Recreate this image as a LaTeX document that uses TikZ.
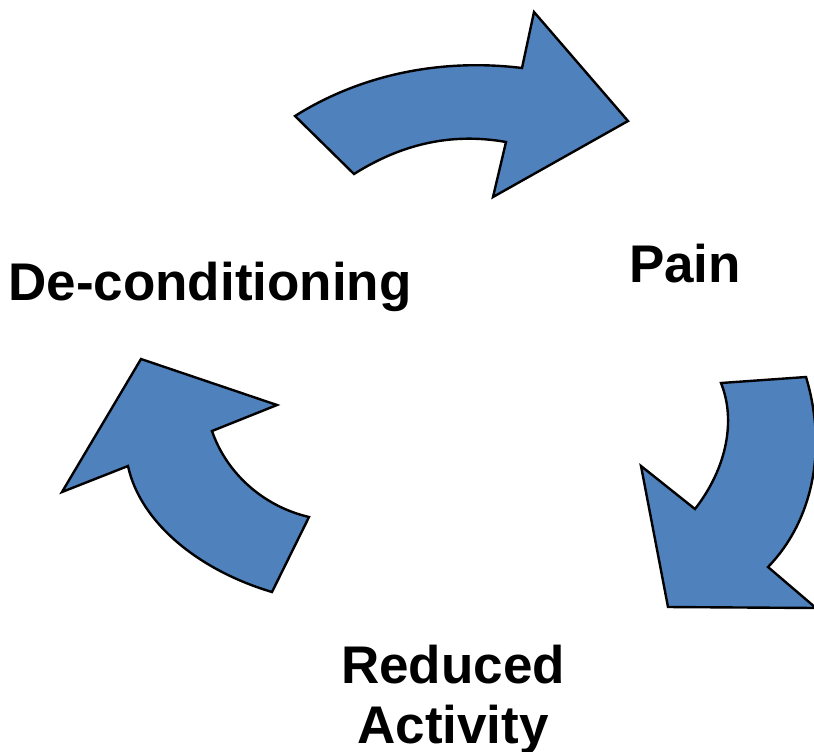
\documentclass[tikz,border=0pt]{standalone}
\usepackage{fontspec}
\setmainfont{Liberation Sans}
\usetikzlibrary{positioning}
\definecolor{arrowcol}{RGB}{79,129,189}
\tikzset{
  cyclearrow/.style={fill=arrowcol, draw=black, line width=1.2pt, line join=miter},
  steplabel/.style={font=\fontsize{26.5}{28.5}\selectfont\bfseries, inner sep=0pt, anchor=base}
}

\begin{document}
\begin{tikzpicture}[x=0.5pt, y=-0.5pt]

  % --- page frame ----------------------------------------------------------
  \useasboundingbox (0,0) rectangle (814,751);

  % --- labels of the cycle -------------------------------------------------
  \node[steplabel] (pain) at (685,282) {Pain};
  \node[steplabel] (decond) at (210,300) {De-conditioning};
  \node[steplabel] (reduced) at (453,683) {Reduced};
  \node[steplabel, below=1pt of reduced.base, anchor=base, yshift=-29pt] (activity) {Activity};

  % --- curved block arrows -------------------------------------------------
  % top: de-conditioning -> pain
  \draw[cyclearrow] (295,116) .. controls (360,75) and (440,58) .. (522,68)
    -- (534,12) -- (628,121) -- (493,197) -- (506,142)
    .. controls (450,132) and (400,145) .. (354,174) -- cycle;

  % right: pain -> reduced activity
  \draw[cyclearrow] (721,383) -- (806,377)
    .. controls (828,450) and (812,522) .. (768,567)
    -- (816,608) -- (668,607) -- (641,466) -- (695,509)
    .. controls (727,468) and (736,420) .. (721,383) -- cycle;

  % left: reduced activity -> de-conditioning
  \draw[cyclearrow] (141,359) -- (277,405) -- (212,431)
    .. controls (226,472) and (262,506) .. (309,517)
    -- (272,592)
    .. controls (198,570) and (140,522) .. (128,466)
    -- (62,492) -- cycle;

\end{tikzpicture}
\end{document}
